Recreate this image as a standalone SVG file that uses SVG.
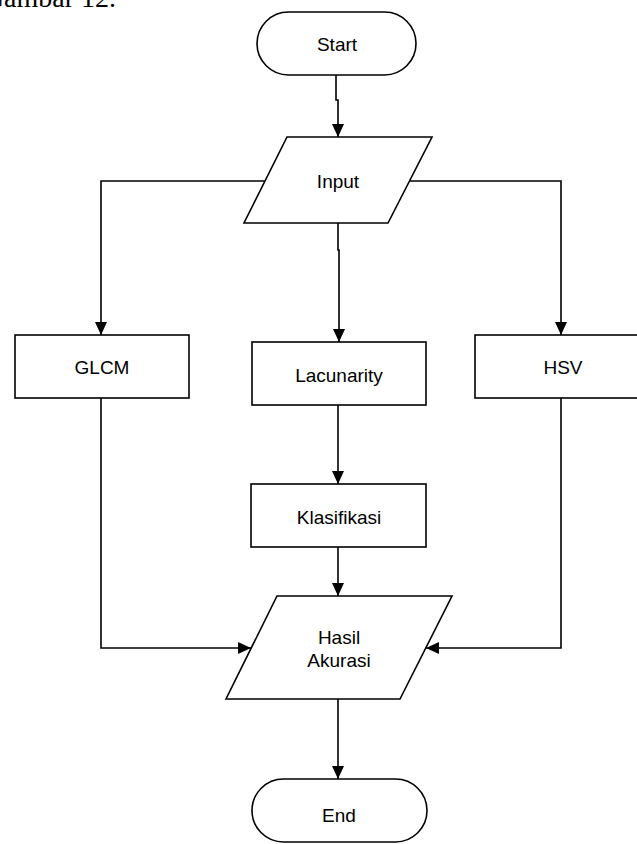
<svg xmlns="http://www.w3.org/2000/svg" width="637" height="844" viewBox="0 0 637 844">
  <defs>
    <marker id="arrow" viewBox="0 0 13 12" refX="13" refY="6" markerWidth="13" markerHeight="12" markerUnits="userSpaceOnUse" orient="auto">
      <path d="M0,0 L13,6 L0,12 Z" fill="#000"/>
    </marker>
    <style>
      .shape { fill: #fff; stroke: #000; stroke-width: 1.6; }
      .conn { fill: none; stroke: #000; stroke-width: 1.6; marker-end: url(#arrow); }
      .label { font-family: "Liberation Sans", Arial, sans-serif; font-size: 19px; fill: #000; text-anchor: middle; }
      .caption { font-family: "Liberation Serif", "Times New Roman", serif; font-size: 28px; fill: #000; text-anchor: end; }
    </style>
  </defs>
  <rect width="637" height="844" fill="#fff"/>
  <text class="caption" x="116" y="7">Gambar 12.</text>

  <g id="connectors">
    <polyline class="conn" points="336,75 336,100 338,100 338,137"/>
    <polyline class="conn" points="265,181 101,181 101,335"/>
    <polyline class="conn" points="410,181 561,181 561,335"/>
    <polyline class="conn" points="338,223 338,250 339,250 339,342"/>
    <polyline class="conn" points="338,405 338,484"/>
    <polyline class="conn" points="338,547 338,596"/>
    <polyline class="conn" points="101,398 101,648 251,648"/>
    <polyline class="conn" points="561,398 561,648 426,648"/>
    <polyline class="conn" points="338,699 338,779"/>
  </g>

  <g id="start">
    <rect class="shape" x="257" y="12" width="159" height="63" rx="31.5" ry="31.5"/>
    <text class="label" x="337" y="51">Start</text>
  </g>
  <g id="input">
    <polygon class="shape" points="287,137 432,137 388,223 244,223"/>
    <text class="label" x="338" y="188">Input</text>
  </g>
  <g id="glcm">
    <rect class="shape" x="15" y="335" width="174" height="63"/>
    <text class="label" x="102" y="374">GLCM</text>
  </g>
  <g id="lacunarity">
    <rect class="shape" x="252" y="342" width="174" height="63"/>
    <text class="label" x="339" y="382">Lacunarity</text>
  </g>
  <g id="hsv">
    <rect class="shape" x="475" y="335" width="175" height="63"/>
    <text class="label" x="563" y="374">HSV</text>
  </g>
  <g id="klasifikasi">
    <rect class="shape" x="251" y="484" width="175" height="63"/>
    <text class="label" x="339" y="524">Klasifikasi</text>
  </g>
  <g id="hasil">
    <polygon class="shape" points="277,596 452,596 400,699 226,699"/>
    <text class="label" x="339" y="644">Hasil</text>
    <text class="label" x="339" y="667">Akurasi</text>
  </g>
  <g id="end">
    <rect class="shape" x="252" y="779" width="175" height="63" rx="31.5" ry="31.5"/>
    <text class="label" x="339" y="822">End</text>
  </g>
</svg>
